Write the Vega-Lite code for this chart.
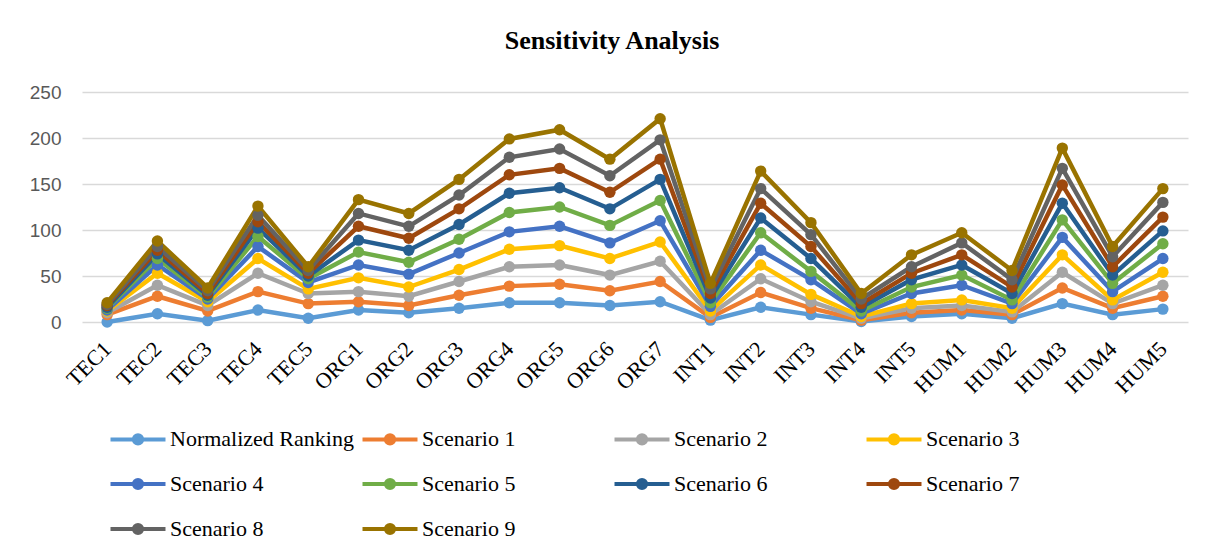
{
  "$schema": "https://vega.github.io/schema/vega-lite/v6.json",
  "width": 1106,
  "height": 230,
  "autosize": {"type": "none"},
  "padding": {"left": 82, "top": 92, "right": 27, "bottom": 231},
  "background": "white",
  "title": {"text": "Sensitivity Analysis", "font": "Liberation Serif", "fontSize": 26, "fontWeight": "bold", "color": "#000000", "anchor": "middle", "offset": 29, "dx": -23},
  "data": {"values": [
    {"c": "TEC1", "Normalized Ranking": 0, "Scenario 1": 8, "Scenario 2": 10, "Scenario 3": 12, "Scenario 4": 13, "Scenario 5": 15, "Scenario 6": 16, "Scenario 7": 18, "Scenario 8": 19, "Scenario 9": 21},
    {"c": "TEC2", "Normalized Ranking": 9, "Scenario 1": 28, "Scenario 2": 40, "Scenario 3": 53, "Scenario 4": 62, "Scenario 5": 69, "Scenario 6": 74, "Scenario 7": 78, "Scenario 8": 82, "Scenario 9": 88},
    {"c": "TEC3", "Normalized Ranking": 1.5, "Scenario 1": 12, "Scenario 2": 18, "Scenario 3": 22, "Scenario 4": 25, "Scenario 5": 27, "Scenario 6": 29, "Scenario 7": 31, "Scenario 8": 34, "Scenario 9": 37},
    {"c": "TEC4", "Normalized Ranking": 13, "Scenario 1": 33, "Scenario 2": 53, "Scenario 3": 69, "Scenario 4": 82, "Scenario 5": 93, "Scenario 6": 102, "Scenario 7": 109, "Scenario 8": 116, "Scenario 9": 126},
    {"c": "TEC5", "Normalized Ranking": 4, "Scenario 1": 20, "Scenario 2": 31, "Scenario 3": 36, "Scenario 4": 43, "Scenario 5": 47, "Scenario 6": 50, "Scenario 7": 53, "Scenario 8": 56, "Scenario 9": 60},
    {"c": "ORG1", "Normalized Ranking": 13, "Scenario 1": 22, "Scenario 2": 33, "Scenario 3": 48, "Scenario 4": 62, "Scenario 5": 76, "Scenario 6": 89, "Scenario 7": 104, "Scenario 8": 118, "Scenario 9": 133},
    {"c": "ORG2", "Normalized Ranking": 10, "Scenario 1": 18, "Scenario 2": 28, "Scenario 3": 38, "Scenario 4": 52, "Scenario 5": 65, "Scenario 6": 78, "Scenario 7": 91, "Scenario 8": 104, "Scenario 9": 118},
    {"c": "ORG3", "Normalized Ranking": 15, "Scenario 1": 29, "Scenario 2": 44, "Scenario 3": 57, "Scenario 4": 75, "Scenario 5": 90, "Scenario 6": 106, "Scenario 7": 123, "Scenario 8": 138, "Scenario 9": 155},
    {"c": "ORG4", "Normalized Ranking": 21, "Scenario 1": 39, "Scenario 2": 60, "Scenario 3": 79, "Scenario 4": 98, "Scenario 5": 119, "Scenario 6": 140, "Scenario 7": 160, "Scenario 8": 179, "Scenario 9": 199},
    {"c": "ORG5", "Normalized Ranking": 21, "Scenario 1": 41, "Scenario 2": 62, "Scenario 3": 83, "Scenario 4": 104, "Scenario 5": 125, "Scenario 6": 146, "Scenario 7": 167, "Scenario 8": 188, "Scenario 9": 209},
    {"c": "ORG6", "Normalized Ranking": 18, "Scenario 1": 34, "Scenario 2": 51, "Scenario 3": 69, "Scenario 4": 86, "Scenario 5": 105, "Scenario 6": 123, "Scenario 7": 141, "Scenario 8": 159, "Scenario 9": 177},
    {"c": "ORG7", "Normalized Ranking": 22, "Scenario 1": 44, "Scenario 2": 66, "Scenario 3": 87, "Scenario 4": 110, "Scenario 5": 132, "Scenario 6": 155, "Scenario 7": 177, "Scenario 8": 198, "Scenario 9": 221},
    {"c": "INT1", "Normalized Ranking": 2, "Scenario 1": 5, "Scenario 2": 8, "Scenario 3": 12, "Scenario 4": 17, "Scenario 5": 21, "Scenario 6": 26, "Scenario 7": 31, "Scenario 8": 36, "Scenario 9": 42},
    {"c": "INT2", "Normalized Ranking": 16, "Scenario 1": 32, "Scenario 2": 47, "Scenario 3": 62, "Scenario 4": 78, "Scenario 5": 97, "Scenario 6": 113, "Scenario 7": 129, "Scenario 8": 145, "Scenario 9": 164},
    {"c": "INT3", "Normalized Ranking": 8, "Scenario 1": 15, "Scenario 2": 22, "Scenario 3": 30, "Scenario 4": 46, "Scenario 5": 55, "Scenario 6": 69, "Scenario 7": 82, "Scenario 8": 95, "Scenario 9": 108},
    {"c": "INT4", "Normalized Ranking": 0.5, "Scenario 1": 2, "Scenario 2": 4, "Scenario 3": 6, "Scenario 4": 9, "Scenario 5": 12, "Scenario 6": 16, "Scenario 7": 20, "Scenario 8": 25, "Scenario 9": 31},
    {"c": "INT5", "Normalized Ranking": 6, "Scenario 1": 10, "Scenario 2": 15, "Scenario 3": 20, "Scenario 4": 31, "Scenario 5": 38, "Scenario 6": 46, "Scenario 7": 53, "Scenario 8": 60, "Scenario 9": 73},
    {"c": "HUM1", "Normalized Ranking": 9, "Scenario 1": 13, "Scenario 2": 18, "Scenario 3": 24, "Scenario 4": 40, "Scenario 5": 51, "Scenario 6": 62, "Scenario 7": 73, "Scenario 8": 86, "Scenario 9": 97},
    {"c": "HUM2", "Normalized Ranking": 4, "Scenario 1": 8, "Scenario 2": 11, "Scenario 3": 15, "Scenario 4": 20, "Scenario 5": 24, "Scenario 6": 31, "Scenario 7": 38, "Scenario 8": 46, "Scenario 9": 56},
    {"c": "HUM3", "Normalized Ranking": 20, "Scenario 1": 37, "Scenario 2": 54, "Scenario 3": 73, "Scenario 4": 92, "Scenario 5": 111, "Scenario 6": 129, "Scenario 7": 149, "Scenario 8": 167, "Scenario 9": 189},
    {"c": "HUM4", "Normalized Ranking": 8, "Scenario 1": 15, "Scenario 2": 20, "Scenario 3": 24, "Scenario 4": 33, "Scenario 5": 42, "Scenario 6": 51, "Scenario 7": 60, "Scenario 8": 71, "Scenario 9": 82},
    {"c": "HUM5", "Normalized Ranking": 14, "Scenario 1": 28, "Scenario 2": 40, "Scenario 3": 54, "Scenario 4": 69, "Scenario 5": 85, "Scenario 6": 99, "Scenario 7": 114, "Scenario 8": 130, "Scenario 9": 145}
  ]},
  "transform": [
    {"fold": ["Normalized Ranking", "Scenario 1", "Scenario 2", "Scenario 3", "Scenario 4", "Scenario 5", "Scenario 6", "Scenario 7", "Scenario 8", "Scenario 9"], "as": ["series", "value"]}
  ],
  "mark": {"type": "line", "strokeWidth": 4.5, "point": {"filled": true, "size": 130, "opacity": 1}},
  "encoding": {
    "x": {
      "field": "c", "type": "nominal", "sort": null,
      "scale": {"type": "point", "padding": 0.5},
      "axis": {"title": null, "domain": false, "ticks": false, "grid": false, "labelAngle": -45, "labelAlign": "right", "labelBaseline": "middle", "labelFont": "Liberation Serif", "labelFontSize": 22, "labelColor": "#000000", "labelPadding": 23}
    },
    "y": {
      "field": "value", "type": "quantitative",
      "scale": {"domain": [0, 250], "nice": false},
      "axis": {"title": null, "values": [0, 50, 100, 150, 200, 250], "domain": false, "ticks": false, "grid": true, "gridColor": "#d9d9d9", "gridWidth": 1.5, "labelFont": "Liberation Sans", "labelFontSize": 19, "labelColor": "#595959", "labelPadding": 21}
    },
    "color": {
      "field": "series", "type": "nominal",
      "scale": {
        "domain": ["Normalized Ranking", "Scenario 1", "Scenario 2", "Scenario 3", "Scenario 4", "Scenario 5", "Scenario 6", "Scenario 7", "Scenario 8", "Scenario 9"],
        "range": ["#5B9BD5", "#ED7D31", "#A5A5A5", "#FFC000", "#4472C4", "#70AD47", "#255E91", "#9E480E", "#636363", "#997300"]
      },
      "legend": {
        "title": null, "orient": "none", "legendX": 40, "legendY": 331, "direction": "horizontal", "columns": 4, "gridAlign": "all",
        "padding": 0, "columnPadding": 0, "rowPadding": 16,
        "symbolType": "M-2,0L-0.3,0M0.3,0A0.3,0.3,0,1,1,-0.3,0A0.3,0.3,0,1,1,0.3,0M0.3,0L2,0",
        "symbolSize": 756, "symbolStrokeWidth": 4, "symbolOpacity": 1,
        "labelFont": "Liberation Serif", "labelFontSize": 22, "labelColor": "#000000", "labelOffset": 16, "labelLimit": 400,
        "encode": {"symbols": {"update": {"fill": {"scale": "color", "field": "value"}, "stroke": {"scale": "color", "field": "value"}}}}
      }
    }
  },
  "config": {"view": {"stroke": null}}
}
